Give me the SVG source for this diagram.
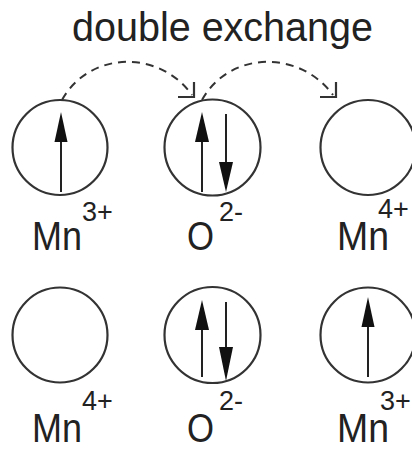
<svg xmlns="http://www.w3.org/2000/svg" width="412" height="450" viewBox="0 0 412 450">
<defs>
<style>
.ring{fill:none;stroke:#333;stroke-width:2.2}
.spin{stroke:#222;stroke-width:2;fill:none}
.head{fill:#111}
.lbl{font-family:"Liberation Sans",Arial,sans-serif;font-size:41px;fill:#222}
.sup{font-family:"Liberation Sans",Arial,sans-serif;font-size:27px;fill:#222}
.title{font-family:"Liberation Sans",Arial,sans-serif;font-size:40px;fill:#222}
.hop{fill:none;stroke:#333;stroke-width:2;stroke-dasharray:8 6}
.tip{fill:none;stroke:#333;stroke-width:2.2}
</style>
</defs>
<rect width="412" height="450" fill="#fff"/>
<text class="title" x="72" y="41" textLength="301" lengthAdjust="spacingAndGlyphs">double exchange</text>
<g id="connectors">
<path class="hop" d="M62 100 C90 50,160 50,192 95"/>
<polyline class="tip" points="178,97 194,97 194,82"/>
<path class="hop" d="M202 100 C230 50,300 50,333 95"/>
<polyline class="tip" points="320,97 336,97 336,82"/>
</g>
<g id="mn3-top">
<circle class="ring" cx="60" cy="147.5" r="47.5"/>
<line class="spin" x1="61" y1="192" x2="61" y2="140"/>
<polygon class="head" points="61,112 54.5,142 67.5,142"/>
<text class="lbl" x="32" y="250" textLength="50" lengthAdjust="spacingAndGlyphs">Mn</text>
<text class="sup" x="82" y="221">3+</text>
</g>
<g id="o-top">
<circle class="ring" cx="212.5" cy="147.5" r="48"/>
<line class="spin" x1="202" y1="192" x2="202" y2="140"/>
<polygon class="head" points="202,112 195,142 209,142"/>
<line class="spin" x1="226" y1="114" x2="226" y2="164"/>
<polygon class="head" points="226,192 219,162 233,162"/>
<text class="lbl" x="187" y="250" textLength="27" lengthAdjust="spacingAndGlyphs">O</text>
<text class="sup" x="219" y="221">2-</text>
</g>
<g id="mn4-top">
<circle class="ring" cx="368" cy="147.5" r="47.5"/>
<text class="lbl" x="337" y="250" textLength="52" lengthAdjust="spacingAndGlyphs">Mn</text>
<text class="sup" x="378" y="218">4+</text>
</g>
<g id="mn4-bottom">
<circle class="ring" cx="60" cy="335" r="47.5"/>
<text class="lbl" x="32" y="442" textLength="50" lengthAdjust="spacingAndGlyphs">Mn</text>
<text class="sup" x="82" y="410">4+</text>
</g>
<g id="o-bottom">
<circle class="ring" cx="212.5" cy="335" r="48"/>
<line class="spin" x1="202" y1="377" x2="202" y2="325"/>
<polygon class="head" points="202,300 195,330 209,330"/>
<line class="spin" x1="226" y1="302" x2="226" y2="350"/>
<polygon class="head" points="226,381 219,347 233,347"/>
<text class="lbl" x="187" y="442" textLength="27" lengthAdjust="spacingAndGlyphs">O</text>
<text class="sup" x="219" y="410">2-</text>
</g>
<g id="mn3-bottom">
<circle class="ring" cx="368" cy="335" r="47.5"/>
<line class="spin" x1="368" y1="377" x2="368" y2="322"/>
<polygon class="head" points="368,297 361.5,327 374.5,327"/>
<text class="lbl" x="337" y="442" textLength="52" lengthAdjust="spacingAndGlyphs">Mn</text>
<text class="sup" x="380" y="410">3+</text>
</g>
</svg>
